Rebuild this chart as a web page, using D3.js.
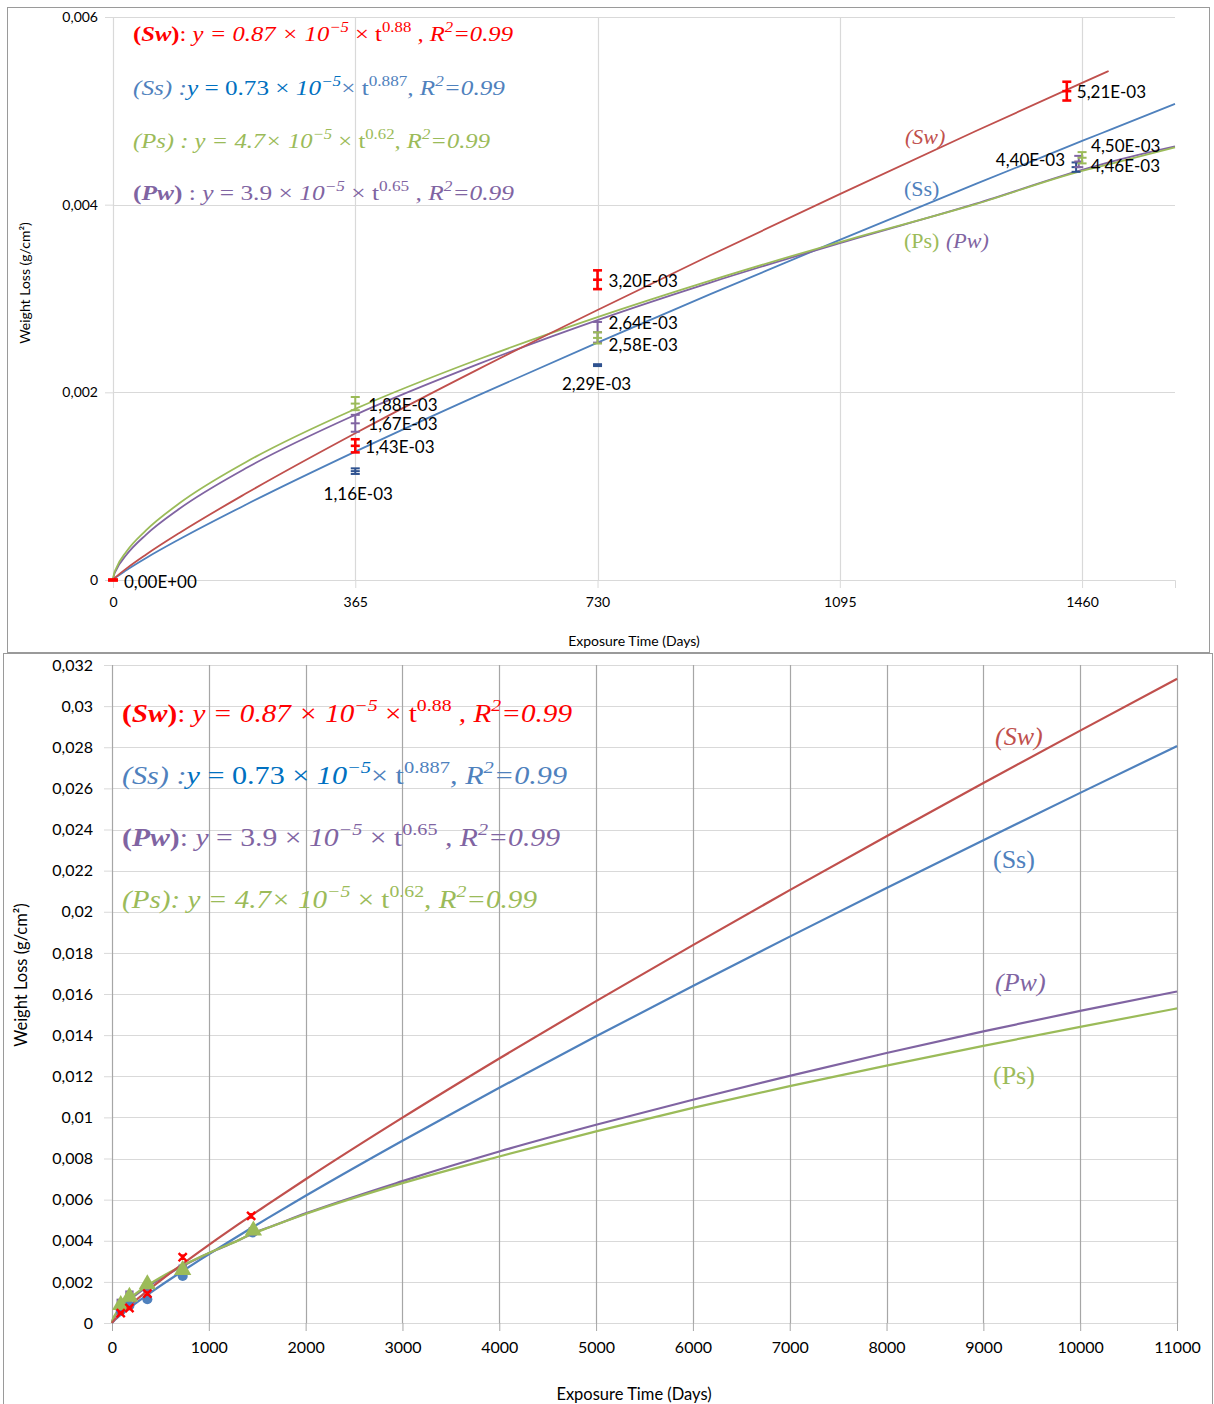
<!DOCTYPE html>
<html>
<head>
<meta charset="utf-8">
<script src="https://cdn.jsdelivr.net/npm/d3@7"></script>
<style>
body { margin: 0; background: #fff; }
svg { display: block; }
</style>
</head>
<body>
<div></div>
<script>
const width = 1214
const height = 1404

// trend lines at these exposure times (days)
const fitDays = [0, 1, 5, 20, 50, 100, 200, 365, 550, 730, 900, 1095, 1300, 1460, 1500, 1600, 2000, 3000, 4000, 5000, 6000, 7000, 8000, 9000, 10000, 11000]
const swFit = [0, 0.0000087, 0.0000359, 0.000121, 0.000272, 0.000501, 0.000921, 0.001564, 0.002245, 0.002878, 0.003461, 0.004113, 0.004785, 0.005298, 0.005425, 0.005743, 0.006990, 0.009986, 0.012864, 0.015656, 0.018379, 0.021051, 0.023673, 0.026261, 0.028808, 0.031331]
const ssFit = [0, 0.0000073, 0.0000304, 0.000104, 0.000235, 0.000434, 0.000802, 0.001368, 0.001968, 0.002530, 0.003046, 0.003625, 0.004221, 0.004679, 0.004792, 0.005074, 0.006185, 0.008862, 0.011438, 0.013941, 0.016389, 0.018790, 0.021152, 0.023482, 0.025781, 0.028059]
const psFit = [0, 0.000047, 0.000127, 0.000301, 0.000531, 0.000817, 0.001255, 0.001823, 0.002350, 0.002801, 0.003190, 0.003602, 0.004006, 0.004360, 0.004430, 0.004610, 0.005300, 0.006800, 0.008100, 0.009320, 0.010460, 0.011520, 0.012520, 0.013480, 0.014400, 0.015300]
const pwFit = [0, 0.000038, 0.000108, 0.000266, 0.000484, 0.000759, 0.001190, 0.001760, 0.002300, 0.002770, 0.003170, 0.003590, 0.004010, 0.004370, 0.004450, 0.004620, 0.005330, 0.006900, 0.008340, 0.009640, 0.010860, 0.012020, 0.013130, 0.014180, 0.015180, 0.016120]

// measured weight loss (g/cm2) with error bars
const swDays = [0, 90, 180, 365, 730, 1437]
const swLoss = [0, 0.00048, 0.00073, 0.00143, 0.00320, 0.00521]
const swErr = [0, 0.00004, 0.00005, 0.00007, 0.00010, 0.00010]
const ssDays = [90, 180, 365, 730, 1451]
const ssLoss = [0.00060, 0.00085, 0.00116, 0.00229, 0.00440]
const ssErr = [0.00002, 0.00002, 0.00003, 0.00001, 0.00005]
const psDays = [90, 180, 365, 730, 1460]
const psLoss = [0.00088, 0.00128, 0.00188, 0.00258, 0.00450]
const psErr = [0.00004, 0.00005, 0.00007, 0.00006, 0.00006]
const pwDays = [90, 180, 365, 730, 1455]
const pwLoss = [0.00098, 0.00138, 0.00167, 0.00264, 0.00446]
const pwErr = [0.00004, 0.00005, 0.00009, 0.00011, 0.00006]

// axis ticks
const xTicksTop = [0, 365, 730, 1095, 1460]
const yTicksTop = [0, 0.002, 0.004, 0.006]
const xTicksBottom = [0, 1000, 2000, 3000, 4000, 5000, 6000, 7000, 8000, 9000, 10000, 11000]
const yTicksBottom = [0, 0.002, 0.004, 0.006, 0.008, 0.01, 0.012, 0.014, 0.016, 0.018, 0.02, 0.022, 0.024, 0.026, 0.028, 0.03, 0.032]

const series = [
    { name: 'Ss', days: ssDays, loss: ssLoss, err: ssErr, fit: ssFit, line: '#4f81bd', mark: '#2f528f', sym: d3.symbolCircle, size: 80 },
    { name: 'Pw', days: pwDays, loss: pwLoss, err: pwErr, fit: pwFit, line: '#8064a2', mark: '#8064a2', sym: d3.symbolSquare, size: 70 },
    { name: 'Ps', days: psDays, loss: psLoss, err: psErr, fit: psFit, line: '#9bbb59', mark: '#9bbb59', sym: d3.symbolTriangle, size: 130 },
    { name: 'Sw', days: swDays, loss: swLoss, err: swErr, fit: swFit, line: '#c0504d', mark: '#ff0000', sym: d3.symbolTimes, size: 45 },
]
series.forEach(s => {
    s.points = s.days.map((d, i) => ({ day: d, v: s.loss[i], e: s.err[i], key: s.name + d }))
    s.curve = fitDays.map((d, i) => [d, s.fit[i]])
})

const commaFmt = d3.formatLocale({ decimal: ',', thousands: '.', grouping: [3], currency: ['', ''] }).format('~g')
const sci = (v) => {
    let [m, e] = v.toExponential(2).split('e')
    let n = +e
    return m.replace('.', ',') + 'E' + (n < 0 ? '-' : '+') + String(Math.abs(n)).padStart(2, '0')
}

let svg = d3.select('div').append('svg')
    .attr('width', width)
    .attr('height', height)
    .attr('font-family', 'Lato, "Open Sans", sans-serif')

// panel frames
svg.append('rect').attr('x', 7.5).attr('y', 7.5).attr('width', 1202).attr('height', 645)
    .attr('fill', 'none').attr('stroke', '#9a9a9a')
svg.append('rect').attr('x', 3.5).attr('y', 653.5).attr('width', 1209).attr('height', 760)
    .attr('fill', 'none').attr('stroke', '#9a9a9a')

function equation(g, x, y, size, len, parts) {
    const t = g.append('text').attr('x', x).attr('y', y)
        .attr('font-family', '"Liberation Serif", "DejaVu Serif", serif')
        .attr('font-size', size)
        .attr('textLength', len).attr('lengthAdjust', 'spacingAndGlyphs')
    let raised = false
    parts.forEach(([s, color, style]) => {
        const sup = style.includes('^')
        const ts = t.append('tspan').text(s).attr('fill', color)
            .attr('font-style', style.includes('i') ? 'italic' : 'normal')
            .attr('font-weight', style.includes('b') ? 'bold' : 'normal')
        if (sup) ts.attr('font-size', size * 0.68)
        if (sup && !raised) ts.attr('dy', -0.42 * size)
        if (!sup && raised) ts.attr('dy', 0.42 * size)
        raised = sup
    })
}

const RED = '#ff0000', B1 = '#4f81bd', B2 = '#0070c0', GR = '#9bbb59', PU = '#8064a2'
const eqSw = [['(', RED, 'b'], ['Sw', RED, 'bi'], [')', RED, 'b'], [': ', RED, ''], ['y = 0.87 × 10', RED, 'i'], ['−5', RED, 'i^'], [' × t', RED, ''], ['0.88', RED, '^'], [' , R', RED, 'i'], ['2', RED, 'i^'], ['=0.99', RED, 'i']]
const eqSs = [['(Ss) :', B1, 'i'], ['y', B2, 'i'], [' = 0.73 × ', B2, ''], ['10', B2, 'i'], ['−5', B2, 'i^'], ['× t', B1, ''], ['0.887', B1, '^'], [', R', B1, 'i'], ['2', B1, 'i^'], ['=0.99', B1, 'i']]
const eqPs = [['(Ps) : y = 4.7× 10', GR, 'i'], ['−5', GR, 'i^'], [' × t', GR, ''], ['0.62', GR, '^'], [', R', GR, 'i'], ['2', GR, 'i^'], ['=0.99', GR, 'i']]
const eqPw = [['(', PU, 'b'], ['Pw', PU, 'bi'], [')', PU, 'b'], [' : ', PU, ''], ['y', PU, 'i'], [' = 3.9 × ', PU, ''], ['10', PU, 'i'], ['−5', PU, 'i^'], [' × t', PU, ''], ['0.65', PU, '^'], [' , R', PU, 'i'], ['2', PU, 'i^'], ['=0.99', PU, 'i']]

function drawPanel(g, opt) {
    const x = d3.scaleLinear().domain(opt.xDomain).range(opt.xRange)
    const y = d3.scaleLinear().domain(opt.yDomain).range(opt.yRange)

    // grid
    g.selectAll('.hgrid').data(opt.yTicks).join('line').attr('class', 'hgrid')
        .attr('x1', opt.xRange[0]).attr('x2', opt.xRange[1])
        .attr('y1', d => Math.round(y(d)) + 0.5).attr('y2', d => Math.round(y(d)) + 0.5)
        .attr('stroke', opt.hColor).attr('stroke-width', 1.2)
    g.selectAll('.vgrid').data(opt.xTicks).join('line').attr('class', 'vgrid')
        .attr('x1', d => Math.round(x(d)) + 0.5).attr('x2', d => Math.round(x(d)) + 0.5)
        .attr('y1', opt.yRange[0]).attr('y2', opt.yRange[1])
        .attr('stroke', opt.vColor).attr('stroke-width', 1.2)

    // axes
    g.append('g').attr('transform', `translate(${opt.xRange[0]},0)`)
        .call(d3.axisLeft(y).tickValues(opt.yTicks).tickFormat(commaFmt).tickSize(8).tickPadding(opt.yPad))
        .call(a => {
            a.attr('font-family', null).attr('font-size', null)
            a.select('.domain').attr('stroke', opt.vColor)
            a.selectAll('line').attr('stroke', opt.hColor)
            a.selectAll('text').attr('fill', '#000').style('font-size', opt.tickFont + 'px')
        })
    g.append('g').attr('transform', `translate(0,${opt.yRange[0]})`)
        .call(d3.axisBottom(x).tickValues(opt.xTicks).tickFormat(d3.format('d')).tickSize(8).tickPadding(opt.xPad))
        .call(a => {
            a.attr('font-family', null).attr('font-size', null)
            a.select('.domain').attr('stroke', opt.hColor)
            a.selectAll('line').attr('stroke', opt.vColor)
            a.selectAll('text').attr('fill', '#000').style('font-size', opt.tickFont + 'px')
        })

    // axis titles
    g.append('text').attr('x', 634).attr('y', opt.xTitleY).attr('text-anchor', 'middle')
        .style('font-size', opt.titleFont + 'px').text('Exposure Time (Days)')
    g.append('text').attr('transform', `translate(${opt.yTitleX},${opt.yTitleY}) rotate(-90)`)
        .attr('text-anchor', 'middle').style('font-size', opt.titleFont + 'px').text('Weight Loss (g/cm²)')

    // trend lines
    const line = d3.line().x(d => x(d[0])).y(d => y(d[1])).curve(d3.curveMonotoneX)
    series.forEach(s => {
        const end = opt.lineEnd(s.name)
        g.append('path').datum(s.curve.filter(d => d[0] <= end))
            .attr('d', line).attr('fill', 'none')
            .attr('stroke', s.line).attr('stroke-width', opt.lineWidth)
    })
    return { x, y }
}

// ---------- top panel ----------
const topG = svg.append('g')
const topScales = drawPanel(topG, {
    xDomain: [0, 1600], xRange: [113, 1175],
    yDomain: [0, 0.006], yRange: [580, 17],
    xTicks: xTicksTop, yTicks: yTicksTop,
    hColor: '#d9d9d9', vColor: '#d9d9d9',
    tickFont: 14, titleFont: 14, yPad: 7, xPad: 9,
    xTitleY: 646, yTitleX: 30, yTitleY: 283,
    lineWidth: 1.8,
    lineEnd: name => name === 'Sw' ? 1500 : 1600,
})

// error bars and data labels, top panel
const labelAt = {
    Sw0: [11, 2, 'start'], Sw365: [10, 1, 'start'], Sw730: [11, 1, 'start'], Sw1437: [10, 1, 'start'],
    Ss365: [3, 23, 'middle'], Ss730: [-1, 19, 'middle'], Ss1451: [-11, -7, 'end'],
    Ps365: [13, 1, 'start'], Ps730: [11, 7, 'start'], Ps1460: [9, -12, 'start'],
    Pw365: [13, 1, 'start'], Pw730: [11, -9, 'start'], Pw1455: [12, 5, 'start'],
}
;['Ss', 'Pw', 'Ps', 'Sw'].forEach(name => {
    const s = series.find(d => d.name === name)
    const { x, y } = topScales
    const pts = s.points.filter(p => p.day === 0 || p.day >= 365)
    const sw = name === 'Sw' ? 2.6 : 2
    const eb = topG.append('g').selectAll('g').data(pts).join('g')
        .attr('transform', d => `translate(${x(d.day)},0)`)
        .attr('stroke', s.mark).attr('stroke-width', sw)
    eb.append('line').attr('y1', d => y(d.v - d.e)).attr('y2', d => y(d.v + d.e))
    eb.append('line').attr('x1', -4.5).attr('x2', 4.5).attr('y1', d => y(d.v - d.e)).attr('y2', d => y(d.v - d.e))
    eb.append('line').attr('x1', -4.5).attr('x2', 4.5).attr('y1', d => y(d.v + d.e)).attr('y2', d => y(d.v + d.e))
    eb.append('line').attr('x1', d => d.day === 0 ? -5 : -4.5).attr('x2', d => d.day === 0 ? 5 : 4.5)
        .attr('y1', d => y(d.v)).attr('y2', d => y(d.v)).attr('stroke-width', d => d.day === 0 ? 3.5 : sw)

    topG.append('g').selectAll('text').data(pts).join('text')
        .attr('x', d => x(d.day) + labelAt[d.key][0])
        .attr('y', d => y(d.v) + labelAt[d.key][1])
        .attr('dy', '0.35em')
        .attr('text-anchor', d => labelAt[d.key][2])
        .style('font-size', '17px')
        .attr('fill', '#000')
        .text(d => sci(d.v))
})

// equations and curve names, top panel
equation(topG, 133, 41, 22, 380, eqSw)
equation(topG, 133, 95, 22, 372, eqSs)
equation(topG, 133, 148, 22, 357, eqPs)
equation(topG, 133, 200, 22, 381, eqPw)

const nameLabel = (g, x, y, size, text, color, italic) =>
    g.append('text').attr('x', x).attr('y', y)
        .attr('font-family', '"Liberation Serif", "DejaVu Serif", serif')
        .attr('font-size', size).attr('font-style', italic ? 'italic' : 'normal')
        .attr('fill', color).text(text)

nameLabel(topG, 905, 144, 22, '(Sw)', '#c0504d', true)
nameLabel(topG, 904, 196, 22, '(Ss)', '#4f81bd', false)
nameLabel(topG, 904, 248, 22, '(Ps)', '#9bbb59', false)
nameLabel(topG, 946, 248, 22, '(Pw)', '#8064a2', true)

// ---------- bottom panel ----------
const botG = svg.append('g')
const botScales = drawPanel(botG, {
    xDomain: [0, 11000], xRange: [112, 1177],
    yDomain: [0, 0.032], yRange: [1323, 665],
    xTicks: xTicksBottom, yTicks: yTicksBottom,
    hColor: '#d9d9d9', vColor: '#a6a6a6',
    tickFont: 16, titleFont: 16.5, yPad: 11, xPad: 11,
    xTitleY: 1400, yTitleX: 27, yTitleY: 975,
    lineWidth: 2.2,
    lineEnd: () => 11000,
})

series.forEach(s => {
    const { x, y } = botScales
    const pts = s.points.filter(p => p.day > 0)
    const eb = botG.append('g').selectAll('g').data(pts).join('g')
        .attr('transform', d => `translate(${x(d.day)},0)`)
        .attr('stroke', s.mark).attr('stroke-width', 1.5)
    eb.append('line').attr('y1', d => y(d.v - d.e)).attr('y2', d => y(d.v + d.e))
    eb.append('line').attr('x1', -3).attr('x2', 3).attr('y1', d => y(d.v - d.e)).attr('y2', d => y(d.v - d.e))
    eb.append('line').attr('x1', -3).attr('x2', 3).attr('y1', d => y(d.v + d.e)).attr('y2', d => y(d.v + d.e))

    botG.append('g').selectAll('path').data(pts).join('path')
        .attr('transform', d => `translate(${x(d.day)},${y(d.v)})`)
        .attr('d', d3.symbol(s.sym, s.size))
        .attr('fill', s.name === 'Sw' ? 'none' : s.line)
        .attr('stroke', s.name === 'Sw' ? s.mark : 'none')
        .attr('stroke-width', 2.4)
})

equation(botG, 122, 722, 26, 450, eqSw)
equation(botG, 122, 784, 26, 445, eqSs)
equation(botG, 122, 846, 26, 438, eqPw.map(p => p[0] === ' : ' ? [': ', p[1], p[2]] : p))
equation(botG, 122, 908, 26, 415, eqPs.map(p => p[0].startsWith('(Ps)') ? ['(Ps): y = 4.7× 10', p[1], p[2]] : p))

nameLabel(botG, 995, 745, 26, '(Sw)', '#c0504d', true)
nameLabel(botG, 993, 868, 26, '(Ss)', '#4f81bd', false)
nameLabel(botG, 995, 991, 26, '(Pw)', '#8064a2', true)
nameLabel(botG, 993, 1084, 26, '(Ps)', '#9bbb59', false)
</script>
</body>
</html>
